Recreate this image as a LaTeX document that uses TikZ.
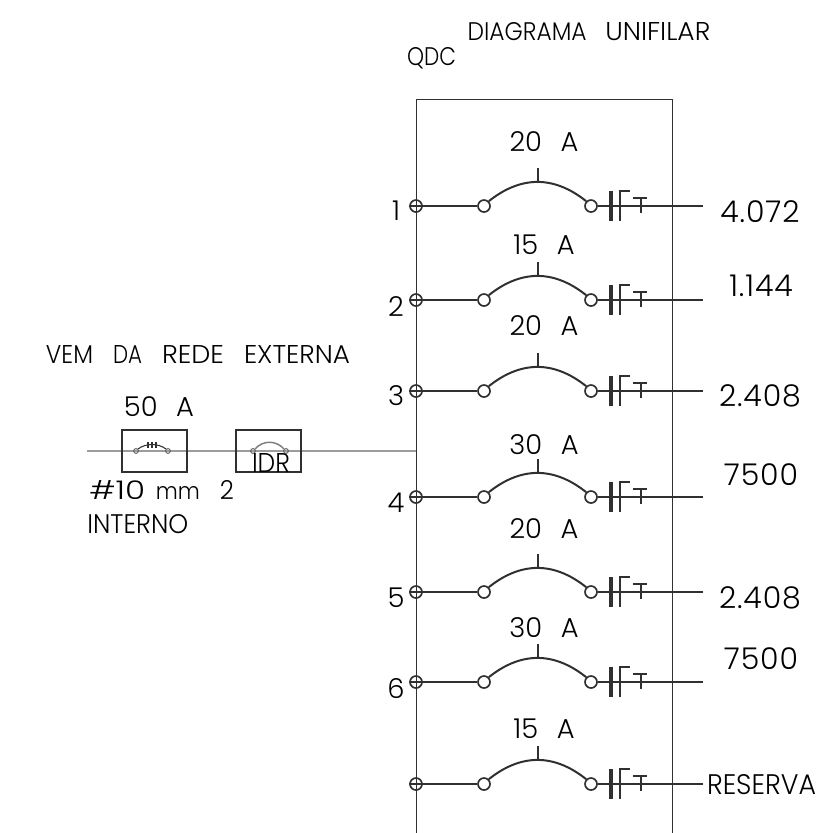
\documentclass[tikz,border=0pt]{standalone}
\usepackage{fontspec}
\setmainfont{Poppins Light}
\definecolor{ln}{HTML}{303030}
\definecolor{gy}{HTML}{9C9C9C}
\newcommand{\ftxt}[1]{\fontsize{#1}{#1}\selectfont}
% word fitted to a width and height given in reference pixels
\newcommand{\WH}[3]{\resizebox{\dimexpr #1pt*3/4\relax}{\dimexpr #2pt*3/4\relax}{#3}}
\newcommand{\W}[2]{\WH{#1}{18}{#2}}
\tikzset{
  x=0.75pt,y=-0.75pt,
  wire/.style={draw=ln,line width=1.5pt},
  term/.style={circle,draw=ln,line width=1.25pt,minimum size=9pt,inner sep=0pt,fill=none},
  sterm/.style={circle,draw=gy!60!black,line width=0.7pt,minimum size=3.6pt,inner sep=0pt},
  lab/.style={inner sep=0pt,text=black,font=\ftxt{20.5}},
  val/.style={inner sep=0pt,text=black,font=\ftxt{22.5}\addfontfeature{LetterSpace=3}},
  num/.style={inner sep=0pt,text=black,font=\ftxt{20.5}},
  fbox/.style={draw=ln,line width=0.8pt,minimum width=48.75pt,minimum height=31.5pt,inner sep=0pt},
}
\newcommand{\circuit}[4]{% id, y, amp y, amp text
  \node[term] (t#1) at (416,#2) {};
  \node[term] (a#1) at (484,#2) {};
  \node[term] (b#1) at (591,#2) {};
  \coordinate (e#1) at (703,#2);
  \coordinate (m#1) at (538,#2-24);
  \coordinate (k#1) at (538,#2-38);
  \draw[wire] (t#1.west) -- (a#1);
  \draw[wire] (b#1) -- (e#1);
  \draw[wire] (a#1.north east) .. controls (521,#2-30.5) and (554,#2-30.5) .. (b#1.north west);
  \draw[wire] (m#1) -- (k#1);
  \draw[draw=ln,line width=2.3pt] (611,#2-15) -- (611,#2+15);
  \draw[wire] (620,#2+15) -- (620,#2-15) -- (630,#2-15);
  \draw[wire] (633,#2-8) -- (647,#2-8);
  \draw[wire] (641,#2-8) -- (641,#2+7);
  \node[lab] (amp#1) at (544,#3) {#4};
}
\begin{document}
\begin{tikzpicture}
\useasboundingbox (0,0) rectangle (821,833);
\node[draw=ln,line width=0.8pt,minimum width=192pt,minimum height=550.5pt,inner sep=0pt,anchor=north west] (qdc) at (416,99) {};

\node[lab] (title) at (589,32) {\W{119}{DIAGRAMA}\hspace{14pt}\W{105}{UNIFILAR}};
\node[lab] (qdclab) at (431.5,58) {\W{49}{QDC}};

\circuit{1}{206}{142}{20\hspace{14pt}A}
\circuit{2}{300}{245}{15\hspace{14pt}A}
\circuit{3}{391}{326}{20\hspace{14pt}A}
\circuit{4}{497}{445}{30\hspace{14pt}A}
\circuit{5}{592}{529}{20\hspace{14pt}A}
\circuit{6}{682}{628}{30\hspace{14pt}A}
\circuit{7}{784}{729}{15\hspace{14pt}A}

\node[num] (n1) at (396,211) {1};
\node[num] (n2) at (396,307) {2};
\node[num] (n3) at (396,396) {3};
\node[num] (n4) at (396,503) {4};
\node[num] (n5) at (396,598) {5};
\node[num] (n6) at (396,689) {6};

\node[val] (v1) at (760,212) {4.072};
\node[val] (v2) at (761,286) {1.144};
\node[val] (v3) at (760,396) {2.408};
\node[val] (v4) at (761,475) {7500};
\node[val] (v5) at (760,598) {2.408};
\node[val] (v6) at (761,659) {7500};
\node[lab] (v7) at (761.5,785) {\WH{109}{20}{RESERVA}};

\node[lab] (ext) at (198,354) {\W{47}{VEM}\hspace{15pt}\W{29}{DA}\hspace{15pt}\W{62}{REDE}\hspace{15pt}\W{106}{EXTERNA}};
\node[lab] (a50) at (159,407) {50\hspace{14pt}A};
\node[lab,anchor=base west] (cable) at (89,499) {\WH{56}{19}{\#10}\hspace{8pt}\WH{44}{13}{mm}\hspace{15pt}\WH{14}{19}{2}};
\node[lab,anchor=base west] (int) at (87,533) {\WH{101}{19}{INTERNO}};

\coordinate (src) at (87,451);
\coordinate (bus) at (416,451);
\draw[draw=gy,line width=2.2pt] (src) -- (bus);
\node[fbox] (f) at (154.5,451) {};
\node[fbox] (i) at (268.5,451) {};

\node[sterm] (fa) at (136,451) {};
\node[sterm] (fb) at (168,451) {};
\draw[draw=ln,line width=0.8pt] (fa.north east) .. controls (146,443) and (158,443) .. (fb.north west);
\foreach \xx in {148,152,156} \draw[draw=ln,line width=0.9pt] (\xx,442) -- (\xx,448);

\node[sterm] (ia) at (253,451) {};
\node[sterm] (ib) at (286,451) {};
\draw[draw=gy!80!black,line width=1.1pt] (ia.north east) .. controls (263,440) and (276,440) .. (ib.north west);
\node[lab,anchor=base] (idr) at (271,472) {\WH{38}{19}{IDR}};
\end{tikzpicture}
\end{document}
